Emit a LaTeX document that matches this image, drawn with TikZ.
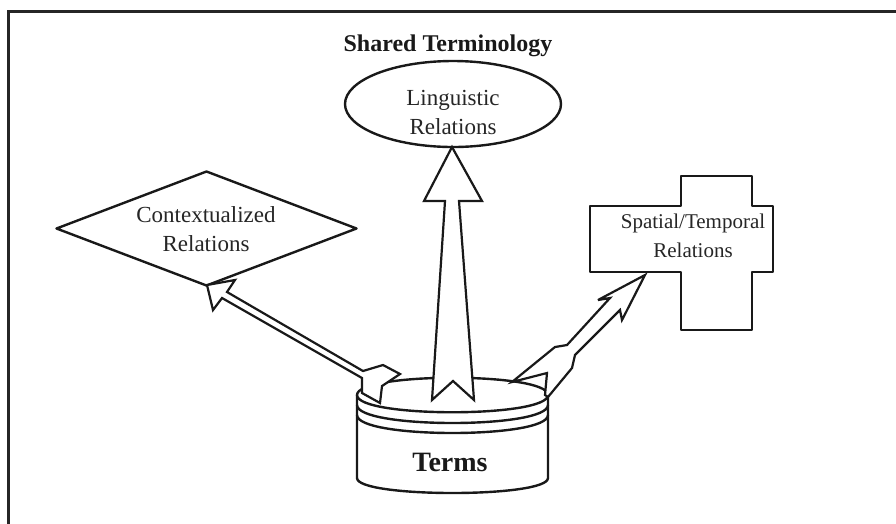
\documentclass[tikz,border=0pt]{standalone}
\usepackage{fontspec}
\setmainfont{Liberation Serif}
\usetikzlibrary{shapes.geometric}
\begin{document}
\begin{tikzpicture}[x=1pt,y=-1pt,
  outline/.style={draw=black!90, line width=2.4pt, line join=round, fill=white},
  label/.style={font=\fontsize{23}{29}\selectfont, align=center, text=black!85},
  blockarrow/.style={draw=black!90, line width=2.2pt, line join=miter, miter limit=6, fill=white}]
\useasboundingbox (0,0) rectangle (896,523);
\begin{scope}
  \clip (0,0) rectangle (896,523);
  % open frame around the whole figure
  \draw[line width=3pt, draw=black!85] (8,11) rectangle (920,560);
\end{scope}

\node[font=\bfseries\fontsize{24}{28}\selectfont, text=black!90] (title) at (448,46) {Shared Terminology};

% linguistic relations
\node[outline, ellipse, minimum width=216pt, minimum height=86pt, inner sep=0pt] (ling) at (453,104) {};
\node[label] (lingtext) at (453,112) {Linguistic\\Relations};

% contextualized relations
\node[outline, diamond, minimum width=301pt, minimum height=115pt, inner sep=0pt] (ctx) at (206.5,228.5) {};
\node[label] (ctxtext) at (206,229) {Contextualized\\Relations};

% spatial / temporal relations (cross)
\draw[outline] (681,176) -- (752,176) -- (752,206) -- (773,206) -- (773,272) -- (752,272)
  -- (752,330) -- (681,330) -- (681,272) -- (590,272) -- (590,206) -- (681,206) -- cycle;
\node[label, font=\fontsize{21}{29}\selectfont] (sptext) at (693,236) {Spatial/Temporal\\Relations};

% terms store
\draw[outline] (357,395) -- (357,478) .. controls (357,498) and (548,498) .. (548,478) -- (548,395);
\draw[outline] (357,395) .. controls (357,372) and (548,372) .. (548,395)
  .. controls (548,418) and (357,418) .. cycle;
\draw[line width=2.4pt, draw=black!90] (357,405) .. controls (357,429) and (548,429) .. (548,405);
\draw[line width=2.4pt, draw=black!90] (357,415) .. controls (357,439) and (548,439) .. (548,415);
\node[font=\bfseries\fontsize{28}{32}\selectfont, text=black!90] (terms) at (450,462) {Terms};

% block arrows out of the store
\draw[blockarrow] (452,147) -- (482,201) -- (459,201) -- (474,400) -- (453,381) -- (432,400)
  -- (445,201) -- (424,201) -- cycle;
\draw[blockarrow] (207,285) -- (235,280) -- (227,292) -- (363,371) -- (383,365) -- (400,374)
  -- (382,386) -- (380,403) -- (362,393) -- (362,378) -- (222,298) -- (213,310) -- cycle;
\draw[blockarrow] (645,275) -- (622,320) -- (620,310) -- (575,355) -- (572,368) -- (548,397)
  -- (545,395) -- (547,373) -- (512,382) -- (555,347) -- (567,345) -- (610,298) -- (598,300) -- cycle;
\end{tikzpicture}
\end{document}
